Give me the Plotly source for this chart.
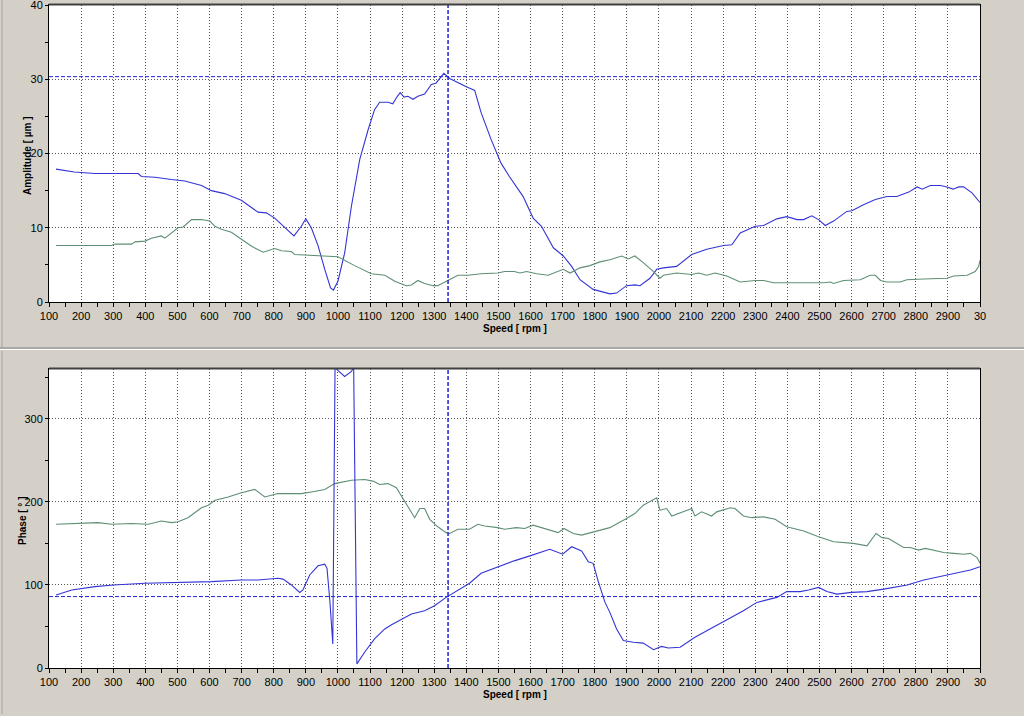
import plotly.graph_objects as go

# ---------------- data ----------------
amp1_speed = [122, 179, 243, 301, 378, 388, 430, 481, 523, 575, 606, 647, 699, 751, 777, 803, 834, 863, 886, 900,
              917, 938, 959, 977, 986, 1000, 1021, 1042, 1068, 1094, 1114, 1130, 1156, 1171, 1185, 1194, 1206, 1218,
              1234, 1249, 1270, 1291, 1306, 1317, 1330, 1348, 1374, 1400, 1426, 1446, 1477, 1508, 1534, 1577, 1608,
              1634, 1671, 1702, 1728, 1754, 1795, 1847, 1868, 1899, 1925, 1941, 1972, 1993, 2014, 2055, 2102, 2149,
              2201, 2227, 2253, 2300, 2326, 2367, 2398, 2430, 2451, 2476, 2497, 2518, 2544, 2585, 2601, 2637, 2674,
              2710, 2741, 2778, 2804, 2820, 2845, 2877, 2897, 2916, 2934, 2949, 2975, 3000]
amp1 = [17.9, 17.5, 17.3, 17.3, 17.3, 16.9, 16.8, 16.5, 16.3, 15.7, 15.0, 14.6, 13.7, 12.1, 12.0, 11.3, 10.1, 8.9, 10.2,
        11.2, 10.0, 7.6, 4.4, 1.9, 1.6, 2.8, 6.6, 12.9, 19.2, 23.2, 25.9, 26.9, 26.9, 26.7, 27.7, 28.2, 27.6, 27.7,
        27.3, 27.7, 28.0, 29.3, 29.5, 30.1, 30.8, 30.1, 29.5, 29.0, 28.5, 25.5, 21.9, 18.7, 16.9, 14.2, 11.3, 10.2,
        7.3, 6.2, 4.8, 3.0, 1.7, 1.1, 1.2, 2.2, 2.3, 2.2, 3.2, 4.4, 4.6, 4.8, 6.4, 7.1, 7.6, 7.7, 9.3, 10.2, 10.3,
        11.2, 11.5, 11.1, 11.1, 11.6, 11.1, 10.3, 10.9, 12.2, 12.3, 13.1, 13.8, 14.2, 14.2, 14.8, 15.5, 15.2, 15.7,
        15.7, 15.5, 15.2, 15.5, 15.5, 14.7, 13.4]

amp2_speed = [122, 295, 305, 357, 368, 399, 419, 450, 461, 482, 502, 518, 544, 575, 601, 617, 637, 668, 699, 731, 767,
              803, 824, 855, 865, 917, 979, 1000, 1052, 1104, 1146, 1177, 1213, 1229, 1249, 1270, 1296, 1311, 1342,
              1374, 1405, 1446, 1498, 1519, 1549, 1567, 1588, 1619, 1655, 1702, 1723, 1754, 1785, 1816, 1847, 1884,
              1904, 1925, 1951, 1983, 2003, 2014, 2055, 2102, 2123, 2149, 2175, 2211, 2253, 2300, 2326, 2357, 2513,
              2534, 2544, 2575, 2627, 2658, 2674, 2690, 2710, 2752, 2772, 2804, 2825, 2897, 2918, 2960, 2985, 2996,
              3000]
amp2 = [7.6, 7.6, 7.8, 7.8, 8.1, 8.2, 8.6, 8.9, 8.6, 9.3, 10.0, 10.1, 11.1, 11.1, 10.9, 10.2, 9.8, 9.4, 8.5, 7.5, 6.7,
        7.2, 6.9, 6.8, 6.4, 6.3, 6.2, 6.1, 4.9, 3.8, 3.6, 2.8, 2.2, 2.3, 2.9, 2.5, 2.2, 2.2, 2.9, 3.6, 3.6, 3.8, 3.9,
        4.1, 4.1, 3.9, 4.1, 3.8, 3.6, 4.4, 3.9, 4.6, 4.9, 5.4, 5.7, 6.2, 5.8, 6.2, 5.3, 4.1, 3.2, 3.6, 3.9, 3.7, 3.9,
        3.6, 3.9, 3.5, 2.7, 2.9, 2.9, 2.6, 2.6, 2.7, 2.5, 2.9, 3.0, 3.6, 3.6, 2.9, 2.7, 2.7, 3.0, 3.0, 3.1, 3.2, 3.5,
        3.6, 4.1, 4.8, 5.6]

ph1_speed = [122, 171, 243, 301, 399, 502, 554, 606, 699, 751, 813, 829, 855, 881, 891, 912, 938, 959, 966, 975, 984,
             991, 998, 1021, 1042, 1049, 1059, 1083, 1114, 1146, 1167, 1198, 1229, 1270, 1301, 1337, 1374, 1410, 1446,
             1488, 1519, 1549, 1598, 1660, 1700, 1728, 1759, 1780, 1795, 1811, 1832, 1847, 1868, 1889, 1920, 1951,
             1983, 2008, 2029, 2066, 2112, 2159, 2211, 2263, 2305, 2367, 2398, 2440, 2466, 2497, 2523, 2554, 2601,
             2648, 2700, 2773, 2825, 2887, 2929, 2970, 3000]
ph1 = [88, 94, 98, 100, 102, 103, 104, 104, 106, 106, 108, 107, 100, 91, 94, 112, 123, 125, 120, 80, 29,
       362, 359, 351, 357, 362, 5, 19, 35, 47, 52, 59, 65, 69, 75, 85, 94, 102, 114,
       120, 125, 129, 135, 143, 137, 146, 141, 128, 126, 104, 79, 67, 47, 33, 31, 30,
       22, 26, 24, 25, 37, 47, 58, 69, 79, 85, 92, 92, 94, 97, 92, 89, 91,
       92, 95, 100, 106, 111, 114, 118, 122]

ph2_speed = [122, 191, 253, 295, 357, 409, 450, 482, 502, 533, 575, 596, 617, 658, 699, 741, 772, 813, 855, 886, 917,
             959, 990, 1042, 1083, 1109, 1130, 1156, 1182, 1208, 1239, 1255, 1270, 1286, 1311, 1337, 1348, 1374, 1410,
             1436, 1457, 1498, 1519, 1556, 1582, 1608, 1650, 1686, 1704, 1733, 1759, 1795, 1847, 1899, 1925, 1951,
             1993, 2003, 2024, 2040, 2076, 2102, 2112, 2133, 2164, 2180, 2222, 2237, 2263, 2289, 2326, 2362, 2398,
             2451, 2497, 2544, 2606, 2648, 2676, 2695, 2715, 2762, 2783, 2809, 2830, 2887, 2918, 2949, 2970, 2991,
             3000]
ph2 = [173, 174, 175, 173, 174, 173, 177, 175, 176, 181, 193, 196, 202, 206, 211, 215, 206, 210, 210, 210, 212,
       215, 222, 226, 227, 225, 221, 222, 217, 200, 181, 192, 192, 179, 170, 163, 162, 167, 167,
       173, 171, 169, 167, 169, 168, 172, 167, 163, 168, 162, 160, 164, 169, 180, 186, 196,
       205, 190, 192, 183, 188, 192, 183, 188, 183, 188, 193, 192, 183, 181, 182, 179, 170,
       165, 158, 152, 150, 147, 162, 157, 156, 145, 145, 142, 144, 139, 138, 137, 138, 133,
       126]

x_tickvals = list(range(100, 3001, 100))
x_ticktext = [str(v) for v in x_tickvals[:-1]] + ["30"]
amp_tickvals = [0, 10, 20, 30, 40]
phase_tickvals = [0, 100, 200, 300]

cursor_speed = 1343
cursor_amp = 30.35
cursor_phase = 86

# ---------------- styling ----------------
W, H = 1024, 716
BG = "#D4D0C8"
BLUE = "#3434D6"
GREEN = "#5E8F74"
CURSOR = "#2424D8"
TICKFONT = dict(family="Liberation Sans Narrow, Arial Narrow, Liberation Sans, Arial", size=11, color="#000000")
TITLEFONT = dict(family="Liberation Sans Narrow, Arial Narrow, Liberation Sans, Arial", size=10, color="#000000")

def px_x(p):
    return p / W

def px_y(p):
    return 1 - p / H

fig = go.Figure()
fig.add_trace(go.Scatter(x=amp1_speed, y=amp1, mode="lines", line=dict(color=BLUE, width=1.1),
                         xaxis="x", yaxis="y", showlegend=False))
fig.add_trace(go.Scatter(x=amp2_speed, y=amp2, mode="lines", line=dict(color=GREEN, width=1.1),
                         xaxis="x", yaxis="y", showlegend=False))
fig.add_trace(go.Scatter(x=ph2_speed, y=ph2, mode="lines", line=dict(color=GREEN, width=1.1),
                         xaxis="x2", yaxis="y2", showlegend=False))
fig.add_trace(go.Scatter(x=ph1_speed, y=ph1, mode="lines", line=dict(color=BLUE, width=1.1),
                         xaxis="x2", yaxis="y2", showlegend=False))

xdom = [px_x(49), px_x(980)]
common_x = dict(range=[100, 3000], tickvals=x_tickvals, ticktext=x_ticktext, showgrid=True,
                gridcolor="#555555", griddash="1px,2px", gridwidth=1, showline=True, linecolor="#000000",
                linewidth=1, mirror=True, ticks="outside", ticklen=4, tickcolor="#000000",
                minor=dict(dtick=50, tick0=100, ticks="outside", ticklen=4, tickcolor="#000000", showgrid=False),
                tickfont=TICKFONT, zeroline=False, fixedrange=True, domain=xdom,
                ticklabeloverflow="allow", automargin=False)
common_y = dict(showgrid=True, gridcolor="#555555", griddash="1px,2px", gridwidth=1, showline=True,
                linecolor="#000000", linewidth=1, mirror=True, ticks="outside", ticklen=3, tickcolor="#000000",
                tickfont=TICKFONT, zeroline=False, fixedrange=True, ticklabeloverflow="allow",
                automargin=False)

fig.update_layout(
    width=W, height=H, autosize=False,
    margin=dict(l=0, r=0, t=0, b=0, pad=0, autoexpand=False),
    paper_bgcolor=BG, plot_bgcolor="#FFFFFF",
    xaxis=dict(**common_x, anchor="y"),
    yaxis=dict(**common_y, range=[0, 40], tickvals=amp_tickvals,
               minor=dict(dtick=5, tick0=0, ticks="outside", ticklen=3, tickcolor="#000000", showgrid=False),
               domain=[px_y(302), px_y(5)], anchor="x"),
    xaxis2=dict(**common_x, anchor="y2"),
    yaxis2=dict(**common_y, range=[0, 360], tickvals=phase_tickvals,
                minor=dict(dtick=50, tick0=0, ticks="outside", ticklen=3, tickcolor="#000000", showgrid=False),
                domain=[px_y(668), px_y(369)], anchor="x2"),
)

# cursor lines
dash_style = "4px,2px"
shapes = [
    dict(type="line", xref="x", yref="y", x0=100, x1=3000, y0=cursor_amp, y1=cursor_amp,
         line=dict(color=CURSOR, width=1, dash=dash_style)),
    dict(type="line", xref="x", yref="y", x0=cursor_speed, x1=cursor_speed, y0=0, y1=40,
         line=dict(color=CURSOR, width=1.5, dash=dash_style)),
    dict(type="line", xref="x2", yref="y2", x0=100, x1=3000, y0=cursor_phase, y1=cursor_phase,
         line=dict(color=CURSOR, width=1, dash=dash_style)),
    dict(type="line", xref="x2", yref="y2", x0=cursor_speed, x1=cursor_speed, y0=0, y1=360,
         line=dict(color=CURSOR, width=1.5, dash=dash_style)),
    # panel separators / window borders
    dict(type="line", xref="paper", yref="paper", x0=0, x1=1, y0=px_y(348), y1=px_y(348),
         line=dict(color="#808080", width=1)),
    dict(type="line", xref="paper", yref="paper", x0=0, x1=1, y0=px_y(349.5), y1=px_y(349.5),
         line=dict(color="#FFFFFF", width=1)),
    dict(type="line", xref="paper", yref="paper", x0=px_x(2), x1=px_x(2), y0=px_y(0), y1=px_y(347),
         line=dict(color="#A8A49C", width=1)),
    dict(type="line", xref="paper", yref="paper", x0=px_x(2), x1=px_x(2), y0=px_y(351), y1=px_y(714),
         line=dict(color="#A8A49C", width=1)),
    dict(type="line", xref="paper", yref="paper", x0=px_x(49), x1=px_x(980), y0=px_y(4.5), y1=px_y(4.5),
         line=dict(color="#404040", width=2)),
    dict(type="line", xref="paper", yref="paper", x0=px_x(49), x1=px_x(980), y0=px_y(368.5), y1=px_y(368.5),
         line=dict(color="#404040", width=2)),
]
fig.update_layout(shapes=shapes)

annotations = [
    dict(text="<b>Speed [ rpm ]</b>", xref="paper", yref="paper", x=px_x(515), y=px_y(328),
         showarrow=False, font=TITLEFONT, xanchor="center", yanchor="middle"),
    dict(text="<b>Speed [ rpm ]</b>", xref="paper", yref="paper", x=px_x(515), y=px_y(694),
         showarrow=False, font=TITLEFONT, xanchor="center", yanchor="middle"),
    dict(text="<b>Amplitude [ µm ]</b>", xref="paper", yref="paper", x=px_x(28), y=px_y(156),
         showarrow=False, font=TITLEFONT, textangle=-90, xanchor="center", yanchor="middle"),
    dict(text="<b>Phase [ ° ]</b>", xref="paper", yref="paper", x=px_x(22), y=px_y(521),
         showarrow=False, font=TITLEFONT, textangle=-90, xanchor="center", yanchor="middle"),
]
fig.update_layout(annotations=annotations)

fig.write_html("out.html", config={"displayModeBar": False})
